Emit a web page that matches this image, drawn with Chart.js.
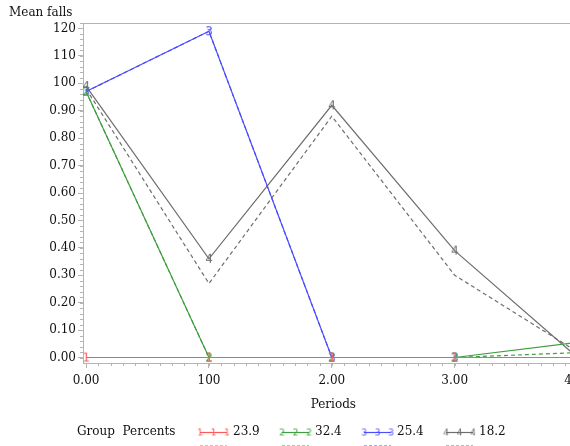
<!DOCTYPE html>
<html>
<head>
<meta charset="utf-8">
<script src="https://cdn.jsdelivr.net/npm/chart.js@4"></script>
<style>
  html, body { margin: 0; padding: 0; background: #fff; overflow: hidden; width: 570px; height: 446px; }
  #wrap { position: absolute; left: 0; top: 0; width: 597px; height: 446px; }
</style>
</head>
<body>
<div id="wrap"><canvas id="trajChart"></canvas></div>
<script>
const periods = [0, 1, 2, 3, 4];
const periodLabels = ['0.00', '100', '2.00', '3.00', '4.00'];
const yTickValues = [0, 0.1, 0.2, 0.3, 0.4, 0.5, 0.6, 0.7, 0.8, 0.9, 1.0, 1.1, 1.2];
const yTickLabels = ['0.00', '0.10', '0.20', '0.30', '0.40', '0.50', '0.60', '0.70', '0.80', '0.90', '100', '110', '120'];
const groupIds = ['1', '2', '3', '4'];
const groupPercents = ['23.9', '32.4', '25.4', '18.2'];

// observed means (solid, numbered markers)
const observedG1 = [0, 0, 0, 0, 0];
const observedG2 = [0.97, 0, 0, 0, 0.055];
const observedG3 = [0.97, 1.19, 0, 0, 0];
const observedG4 = [0.99, 0.36, 0.92, 0.39, 0.0];

// predicted (dashed)
const predictedG1 = [0, 0, 0, 0, 0];
const predictedG2 = [0.97, 0, 0, 0, 0.018];
const predictedG3 = [0.97, 1.19, 0, 0, 0];
const predictedG4 = [0.98, 0.27, 0.88, 0.30, 0.02];

const colors = ['#ff5a5a', '#3f9f3f', '#4b4bff', '#6e6e6e'];
const axisColor = '#b4b4b4';
const textColor = '#111';
const serif = '"DejaVu Serif", "Liberation Serif", serif';

const makeDigit = (digit, color, size) => {
  const c = document.createElement('canvas');
  c.width = size;
  c.height = size + 2;
  const g = c.getContext('2d');
  g.fillStyle = color;
  g.font = `${size}px "DejaVu Sans", sans-serif`;
  g.textAlign = 'center';
  g.textBaseline = 'middle';
  g.fillText(digit, size / 2, (size + 2) / 2 + 1);
  return c;
};

const toPoints = (values) => values.map((v, i) => ({ x: periods[i], y: v }));

const observed = [observedG1, observedG2, observedG3, observedG4];
const predicted = [predictedG1, predictedG2, predictedG3, predictedG4];

const datasets = [];
observed.forEach((values, g) => {
  datasets.push({
    label: groupPercents[g],
    data: toPoints(values),
    borderColor: colors[g],
    borderWidth: 1.2,
    pointStyle: makeDigit(groupIds[g], colors[g], 12),
    pointRadius: 5,
    tension: 0,
  });
});
predicted.forEach((values, g) => {
  datasets.push({
    label: 'pred ' + groupIds[g],
    data: toPoints(values),
    borderColor: colors[g],
    borderWidth: 1.2,
    borderDash: [4, 3],
    pointRadius: 0,
    tension: 0,
  });
});

const decorations = {
  id: 'decorations',
  afterDraw(chart) {
    const { ctx, chartArea: a, scales: { x, y } } = chart;
    ctx.save();
    ctx.strokeStyle = axisColor;
    ctx.lineWidth = 1;
    ctx.beginPath();
    ctx.moveTo(a.left, a.top + 0.5);
    ctx.lineTo(a.right, a.top + 0.5);
    ctx.moveTo(a.right - 0.5, a.top);
    ctx.lineTo(a.right - 0.5, a.bottom);
    // minor ticks
    for (let i = 0; i <= 61; i++) {
      const py = Math.round(y.getPixelForValue(i * 0.02)) + 0.5;
      ctx.moveTo(a.left - 3, py);
      ctx.lineTo(a.left, py);
    }
    for (let i = 0; i <= 40; i++) {
      const px = Math.round(x.getPixelForValue(i * 0.1)) + 0.5;
      ctx.moveTo(px, a.bottom);
      ctx.lineTo(px, a.bottom + 3);
    }
    ctx.stroke();

    ctx.fillStyle = textColor;
    ctx.font = '12px ' + serif;
    ctx.textBaseline = 'middle';
    ctx.textAlign = 'left';
    ctx.fillText('Mean falls', 9, 13);
    ctx.textAlign = 'center';
    ctx.fillText('Periods', (a.left + a.right) / 2, 405);

    // legend
    ctx.textAlign = 'left';
    ctx.fillText('Group  Percents', 77, 432);
    const starts = [200, 282, 364, 446];
    starts.forEach((sx, g) => {
      ctx.strokeStyle = colors[g];
      ctx.lineWidth = 1.2;
      ctx.setLineDash([]);
      ctx.beginPath();
      ctx.moveTo(sx, 432.5);
      ctx.lineTo(sx + 27, 432.5);
      ctx.stroke();
      const mark = makeDigit(groupIds[g], colors[g], 9);
      [0, 13.5, 27].forEach((dx) => ctx.drawImage(mark, sx + dx - 4.5, 432 - 5.5));
      ctx.fillStyle = textColor;
      ctx.fillText(groupPercents[g], sx + 33, 432);
      ctx.setLineDash([3, 2]);
      ctx.globalAlpha = 0.5;
      ctx.beginPath();
      ctx.moveTo(sx, 445.5);
      ctx.lineTo(sx + 27, 445.5);
      ctx.stroke();
      ctx.globalAlpha = 1;
    });
    ctx.restore();
  },
};

new Chart(document.getElementById('trajChart').getContext('2d'), {
  type: 'line',
  data: { datasets },
  options: {
    responsive: true,
    maintainAspectRatio: false,
    animation: false,
    layout: { padding: { top: 23, right: 0, bottom: 0, left: 0 } },
    plugins: { legend: { display: false }, tooltip: { enabled: false } },
    scales: {
      x: {
        type: 'linear',
        min: -0.025,
        max: 4.05,
        afterBuildTicks: (s) => { s.ticks = periods.map((v) => ({ value: v })); },
        afterFit: (s) => { s.height = 83; },
        ticks: {
          callback: (v) => periodLabels[periods.indexOf(v)],
          autoSkip: false,
          maxRotation: 0,
          padding: 6,
          color: textColor,
          font: { family: serif, size: 12 },
        },
        grid: { drawOnChartArea: false, tickLength: 5, tickColor: axisColor },
        border: { color: axisColor },
      },
      y: {
        min: -0.02,
        max: 1.22,
        afterBuildTicks: (s) => { s.ticks = yTickValues.map((v) => ({ value: v })); },
        afterFit: (s) => { s.width = 83; },
        ticks: {
          callback: (v) => yTickLabels[yTickValues.findIndex((t) => Math.abs(t - v) < 1e-6)],
          padding: 2,
          color: textColor,
          font: { family: serif, size: 12 },
        },
        grid: { drawOnChartArea: false, tickLength: 5, tickColor: axisColor },
        border: { color: axisColor },
      },
    },
  },
  plugins: [decorations],
});
</script>
</body>
</html>
